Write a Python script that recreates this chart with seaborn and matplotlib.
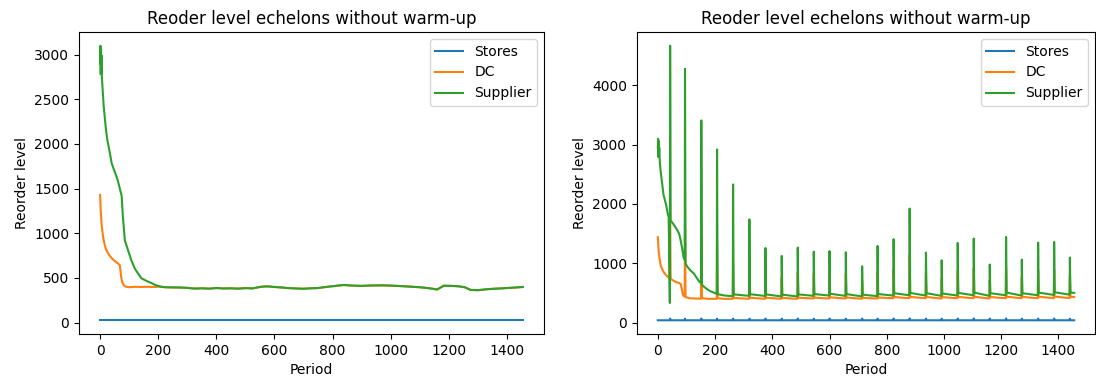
import numpy as np
import pandas as pd
import matplotlib
matplotlib.use("Agg")
import matplotlib.pyplot as plt
import seaborn as sns

# ---------------- data ----------------
series_names = ["Stores", "DC", "Supplier"]
palette = ["#1f77b4", "#ff7f0e", "#2ca02c"]

# Left panel
left_stores_p = [0, 1455]
left_stores_v = [25, 25]

left_sup_head_p = [0, 1, 2, 3, 4, 5, 6, 8, 10, 12, 15, 20, 25, 30, 40, 50, 60, 70, 74, 78,
                   85, 95, 107, 120, 142, 160, 176, 190]
left_sup_head_v = [2900, 3100, 2780, 3060, 2800, 2990, 2760, 2640, 2540, 2430, 2330, 2160,
                   2040, 1960, 1780, 1690, 1600, 1470, 1420, 1200, 920, 820, 700, 600, 495,
                   465, 443, 420]

left_dc_head_p = [0, 2, 5, 10, 15, 20, 30, 40, 50, 60, 68, 72, 76, 82, 90, 100, 120, 140,
                  160, 180, 200]
left_dc_head_v = [1430, 1250, 1100, 960, 880, 820, 760, 720, 690, 665, 640, 520, 450, 415,
                  400, 395, 400, 398, 400, 398, 400]

# steady part shared by DC and Supplier (overlapping lines)
left_steady_p = [210, 225, 250, 275, 300, 325, 350, 375, 400, 425, 450, 475, 500, 525, 553,
                 575, 600, 625, 650, 675, 700, 725, 750, 782, 810, 839, 860, 880, 900, 925,
                 950, 975, 1011, 1050, 1100, 1130, 1160, 1183, 1210, 1235, 1255, 1275, 1300,
                 1330, 1355, 1380, 1410, 1430, 1455]
left_steady_v = [400, 395, 393, 392, 388, 380, 383, 379, 386, 381, 383, 379, 385, 382, 400,
                 405, 398, 392, 385, 381, 378, 383, 386, 400, 410, 420, 415, 412, 410, 414,
                 415, 416, 412, 405, 395, 385, 370, 412, 410, 405, 395, 365, 362, 372, 378,
                 382, 388, 392, 398]

# Right panel
spike_periods = [43, 95, 152, 207, 263, 320, 376, 433, 489, 545, 600, 657, 714, 768, 824,
                 880, 937, 992, 1048, 1104, 1160, 1217, 1272, 1329, 1385, 1440]

right_sup_head_p = [0, 1, 2, 3, 4, 5, 7, 10, 15, 20, 25, 30, 35, 38, 50, 60, 70, 75, 80, 85,
                    90, 105, 114, 126, 135, 145, 160, 170, 183, 195, 202, 218, 230, 245, 255]
right_sup_head_v = [2950, 3100, 2790, 3060, 2800, 2950, 2700, 2550, 2350, 2150, 2060, 1960,
                    1830, 1780, 1690, 1620, 1540, 1490, 1380, 1250, 1100, 930, 880, 826, 760,
                    690, 610, 570, 530, 505, 490, 470, 458, 450, 447]
sup_before = [330, 1060, 665, 488, 445, 450, 448, 440, 440, 450, 455, 450, 440, 445, 455,
              460, 455, 450, 455, 460, 450, 460, 455, 460, 465, 470]
sup_peak = [4670, 4280, 3410, 2920, 2330, 1740, 1258, 1124, 1264, 1195, 1205, 1185, 949,
            1292, 1405, 1922, 1180, 1051, 1343, 1416, 978, 1444, 1062, 1349, 1359, 1096]
sup_after = [1720, 990, 640, 478, 475, 478, 475, 470, 475, 480, 485, 480, 470, 480, 495,
             500, 495, 490, 500, 505, 495, 505, 495, 505, 510, 505]
right_sup_tail_p = [1455]
right_sup_tail_v = [500]

right_dc_head_p = [0, 3, 6, 10, 17, 25, 35, 40, 50, 63, 75, 80, 84, 87, 90, 110, 130, 145,
                   175, 200, 230]
right_dc_head_v = [1440, 1200, 1080, 960, 880, 820, 770, 758, 720, 685, 665, 650, 560, 480,
                   450, 410, 405, 403, 400, 400, 400]
dc_before = [755, 440, 403, 400, 400, 400, 400, 400, 400, 405, 405, 405, 400, 405, 410, 410,
             410, 405, 410, 410, 405, 410, 410, 410, 412, 412]
dc_peak = [1700, 1650, 1440, 1320, 1000, 940, 850, 760, 850, 820, 830, 820, 700, 860, 900,
           1150, 820, 750, 880, 920, 720, 930, 760, 880, 890, 780]
dc_after = [740, 430, 410, 410, 415, 418, 418, 415, 418, 420, 425, 422, 415, 422, 430, 432,
            430, 428, 432, 435, 430, 435, 432, 435, 438, 435]
right_dc_tail_p = [1455]
right_dc_tail_v = [430]

right_stores_p = [0, 1455]
right_stores_v = [38, 38]
stores_before = [38] * len(spike_periods)
stores_peak = [68, 66, 68, 66, 68, 66, 68, 66, 68, 66, 68, 66, 68, 66, 68, 70, 68, 66, 68,
               70, 68, 70, 66, 68, 68, 66]
stores_after = [38] * len(spike_periods)


def with_spikes(head_p, head_v, before, peak, after, tail_p, tail_v):
    p = list(head_p) + list(tail_p)
    v = list(head_v) + list(tail_v)
    for s, b, k, a in zip(spike_periods, before, peak, after):
        p += [s - 1, s, s + 2]
        v += [b, k, a]
    return p, v


def frame(parts):
    rows = []
    for name, (p, v) in zip(series_names, parts):
        rows.append(pd.DataFrame({"Period": p, "Reorder level": v, "Echelon": name}))
    return pd.concat(rows, ignore_index=True)


left_df = frame([
    (left_stores_p, left_stores_v),
    (left_dc_head_p + left_steady_p, left_dc_head_v + left_steady_v),
    (left_sup_head_p + left_steady_p, left_sup_head_v + left_steady_v),
])

sp, sv = with_spikes(right_stores_p, right_stores_v, stores_before, stores_peak,
                     stores_after, [], [])
dp, dv = with_spikes(right_dc_head_p, right_dc_head_v, dc_before, dc_peak, dc_after,
                     right_dc_tail_p, right_dc_tail_v)
up, uv = with_spikes(right_sup_head_p, right_sup_head_v, sup_before, sup_peak, sup_after,
                     right_sup_tail_p, right_sup_tail_v)
right_df = frame([(sp, sv), (dp, dv), (up, uv)])

# ---------------- drawing ----------------
plt.rcParams["font.family"] = ["DejaVu Sans"]
plt.rcParams["font.size"] = 10

W, H = 1096, 381
DPI = 100
fig = plt.figure(figsize=(W / DPI, H / DPI), dpi=DPI)
ax1 = fig.add_axes([79 / W, 1 - 334 / H, (544 - 79) / W, (334 - 32) / H])
ax2 = fig.add_axes([637 / W, 1 - 334 / H, (1095 - 637) / W, (334 - 32) / H])

for ax, df in [(ax1, left_df), (ax2, right_df)]:
    sns.lineplot(data=df, x="Period", y="Reorder level", hue="Echelon",
                 hue_order=series_names, palette=palette, estimator=None,
                 linewidth=1.5, ax=ax)
    ax.set_title("Reoder level echelons without warm-up")
    ax.set_xlabel("Period")
    ax.set_ylabel("Reorder level")
    sns.move_legend(ax, "upper right", title=None)

fig.savefig("out.png", dpi=DPI)
